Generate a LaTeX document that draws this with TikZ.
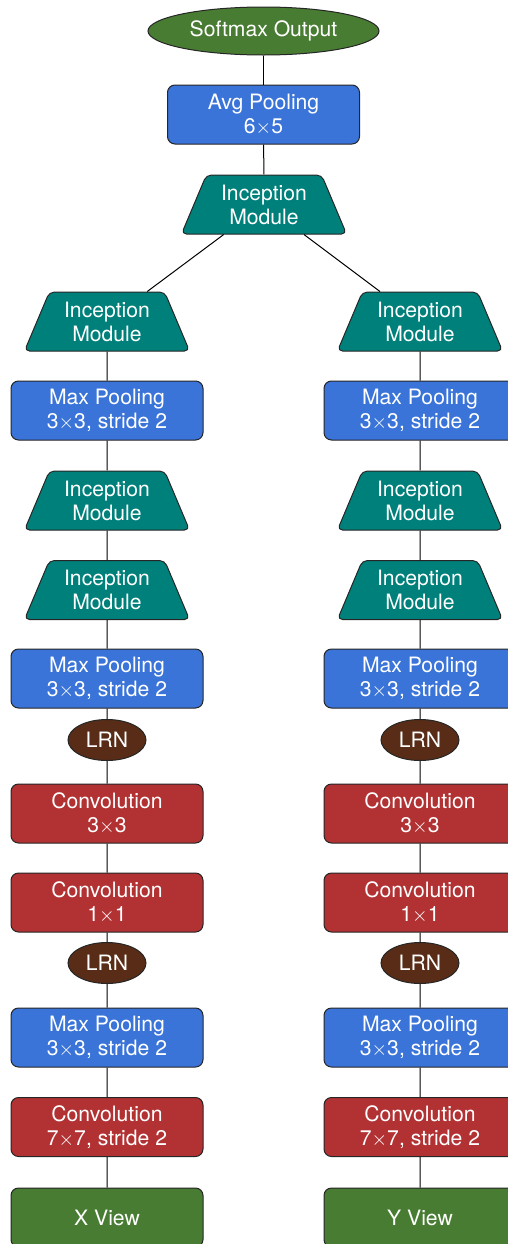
\documentclass[tikz,border=0pt]{standalone}
\usepackage{fontspec}
\setmainfont{TeX Gyre Heros}
\usepackage{tikz}
\usetikzlibrary{shapes.geometric}

\definecolor{outgreen}{RGB}{72,124,50}
\definecolor{poolblue}{RGB}{58,116,216}
\definecolor{incteal}{RGB}{0,128,122}
\definecolor{convred}{RGB}{178,50,52}
\definecolor{lrnbrown}{RGB}{88,44,22}

\begin{document}
\begin{tikzpicture}[x=0.6pt, y=-0.6pt, line width=0.6pt,
  every node/.style={font=\fontsize{12.7}{14.4}\selectfont, text=white, align=center, draw=black!85, inner sep=0pt},
  layerbox/.style={rectangle, rounded corners=4.5pt, minimum width=115.2pt, minimum height=35.4pt},
  poolbox/.style={layerbox, fill=poolblue},
  convbox/.style={layerbox, fill=convred},
  viewbox/.style={layerbox, fill=outgreen},
  incbox/.style={trapezium, trapezium left angle=65, trapezium right angle=65, trapezium stretches=true,
    rounded corners=3pt, minimum width=99.6pt, minimum height=35.4pt, fill=incteal},
  lrnbox/.style={ellipse, minimum width=46.8pt, minimum height=24.6pt, fill=lrnbrown}]
  \useasboundingbox (0,0) rectangle (508,1244);
  \clip (0,0) rectangle (508,1244);

  % top
  \node[ellipse, minimum width=138.6pt, minimum height=28.8pt, fill=outgreen] (soft) at (263.5,31) {Softmax Output};
  \node[poolbox] (avg) at (263.5,114.5) {Avg Pooling\\6$\times$5};
  \node[incbox] (incT) at (264,204.5) {Inception\\Module};

  % x view column
  \node[incbox] (xinc1) at (107,321.5) {Inception\\Module};
  \node[poolbox] (xmp1) at (107,410.5) {Max Pooling\\3$\times$3, stride 2};
  \node[incbox] (xinc2) at (107,500.5) {Inception\\Module};
  \node[incbox] (xinc3) at (107,590) {Inception\\Module};
  \node[poolbox] (xmp2) at (107,678.5) {Max Pooling\\3$\times$3, stride 2};
  \node[lrnbox] (xlrn1) at (107,740) {LRN};
  \node[convbox] (xconv3) at (107,813.5) {Convolution\\3$\times$3};
  \node[convbox] (xconv1) at (107,902.5) {Convolution\\1$\times$1};
  \node[lrnbox] (xlrn2) at (107,963) {LRN};
  \node[poolbox] (xmp3) at (107,1037.5) {Max Pooling\\3$\times$3, stride 2};
  \node[convbox] (xconv7) at (107,1127) {Convolution\\7$\times$7, stride 2};
  \node[viewbox] (xview) at (107,1217.5) {X View};

  % y view column
  \node[incbox] (yinc1) at (420,321.5) {Inception\\Module};
  \node[poolbox] (ymp1) at (420,410.5) {Max Pooling\\3$\times$3, stride 2};
  \node[incbox] (yinc2) at (420,500.5) {Inception\\Module};
  \node[incbox] (yinc3) at (420,590) {Inception\\Module};
  \node[poolbox] (ymp2) at (420,678.5) {Max Pooling\\3$\times$3, stride 2};
  \node[lrnbox] (ylrn1) at (420,740) {LRN};
  \node[convbox] (yconv3) at (420,813.5) {Convolution\\3$\times$3};
  \node[convbox] (yconv1) at (420,902.5) {Convolution\\1$\times$1};
  \node[lrnbox] (ylrn2) at (420,963) {LRN};
  \node[poolbox] (ymp3) at (420,1037.5) {Max Pooling\\3$\times$3, stride 2};
  \node[convbox] (yconv7) at (420,1127) {Convolution\\7$\times$7, stride 2};
  \node[viewbox] (yview) at (420,1217.5) {Y View};

  \draw (soft) -- (avg);
  \draw (avg) -- (incT);
  \draw (incT) -- (xinc1);
  \draw (incT) -- (yinc1);
  \draw (xinc1) -- (xmp1) -- (xinc2) -- (xinc3) -- (xmp2) -- (xlrn1) -- (xconv3) -- (xconv1) -- (xlrn2) -- (xmp3) -- (xconv7) -- (xview);
  \draw (yinc1) -- (ymp1) -- (yinc2) -- (yinc3) -- (ymp2) -- (ylrn1) -- (yconv3) -- (yconv1) -- (ylrn2) -- (ymp3) -- (yconv7) -- (yview);
\end{tikzpicture}
\end{document}
